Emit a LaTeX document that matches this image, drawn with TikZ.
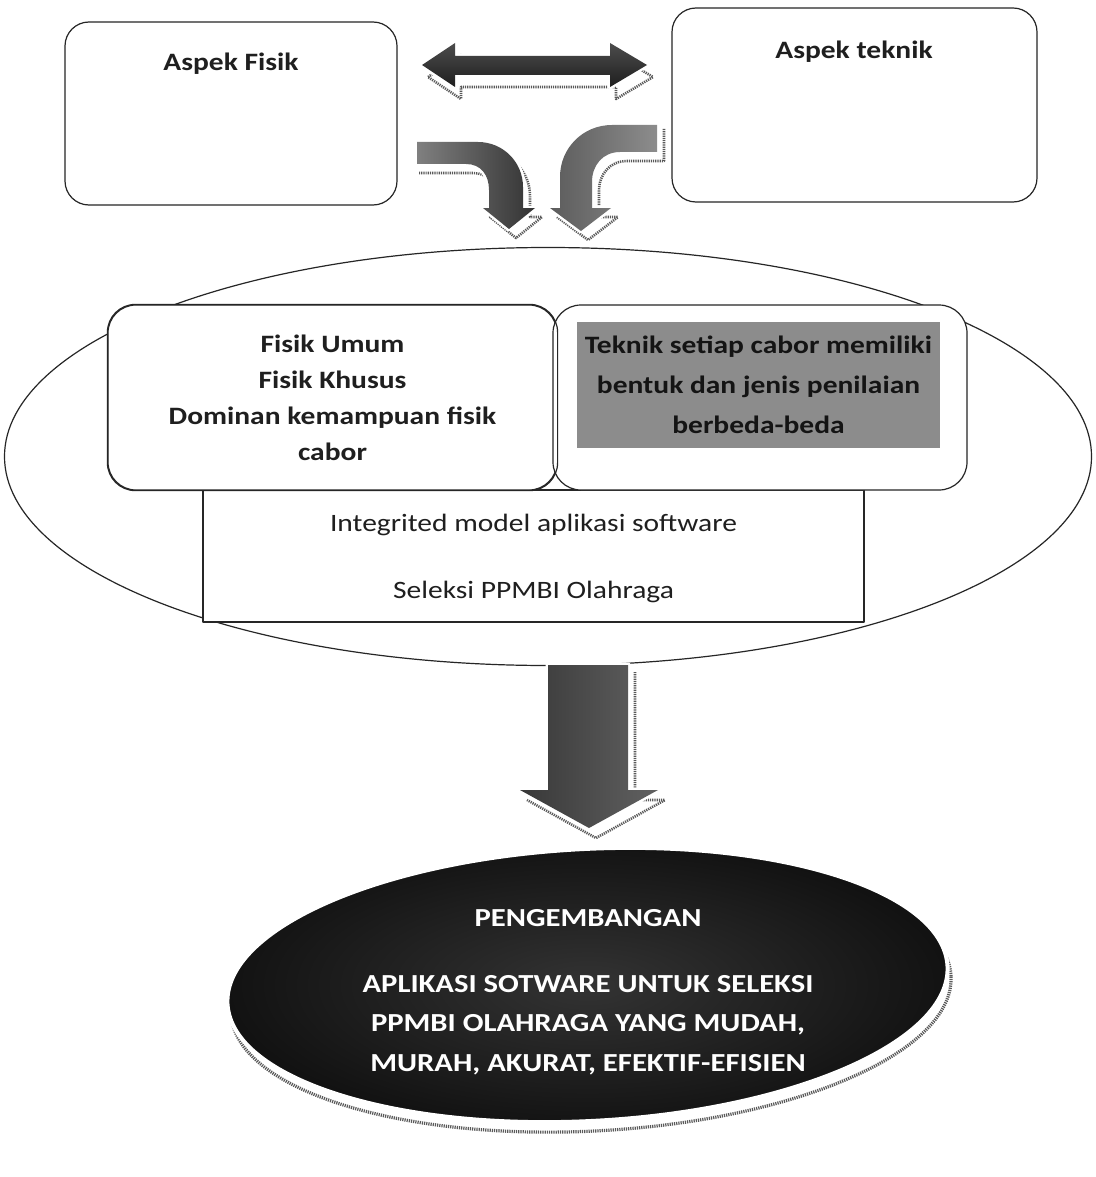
\documentclass[tikz,border=0pt]{standalone}
\usepackage{fontspec}
\setmainfont{Carlito}[FakeStretch=1.18]
\usetikzlibrary{shapes.geometric}
\begin{document}
\begin{tikzpicture}[x=1pt,y=-1pt, line join=round,
  outl/.style={draw=black!85, line width=1.2pt},
  aspbox/.style={outl, fill=white, rounded corners=24pt, inner sep=0pt},
  innbox/.style={outl, fill=white, rounded corners=28pt, inner sep=0pt, align=center, text=black!88, font=\bfseries\fontsize{25}{36}\selectfont},
  ttl/.style={font=\bfseries\fontsize{25}{30}\selectfont, text=black!88},
  plaintxt/.style={font=\fontsize{25}{30}\selectfont, text=black!88},
  shad/.style={draw=black!65, line width=2.6pt, dash pattern=on 1.2pt off 1pt},
  halo/.style={draw=white, line width=5pt},
]
\useasboundingbox (0,0) rectangle (1095,1177);
\fill[white] (0,0) rectangle (1095,1177);

% top boxes
\node[aspbox, minimum width=332pt, minimum height=183pt] (fisik) at (231,113.5) {};
\node[ttl] (tfisik) at (231,64) {Aspek Fisik};
\node[aspbox, minimum width=365pt, minimum height=194pt] (teknik) at (854.5,105) {};
\node[ttl] (tteknik) at (854,52) {Aspek teknik};

% big ellipse
\node[outl, fill=white, ellipse, minimum width=1087pt, minimum height=418pt, inner sep=0pt] (big) at (548,456.5) {};

% double arrow
\begin{scope}[shift={(6,12)}]
\draw[shad] (422,65) -- (455,43) -- (455,56) -- (610,56) -- (610,43) -- (647,65) -- (610,87) -- (610,75) -- (455,75) -- (455,87) -- cycle;
\end{scope}
\path[halo, fill=black!75] (422,65) -- (455,43) -- (455,56) -- (610,56) -- (610,43) -- (647,65) -- (610,87) -- (610,75) -- (455,75) -- (455,87) -- cycle;
\path[top color=black!70, bottom color=black!88] (422,65) -- (455,43) -- (455,56) -- (610,56) -- (610,43) -- (647,65) -- (610,87) -- (610,75) -- (455,75) -- (455,87) -- cycle;
\coordinate (dblL) at (422,65);
\coordinate (dblR) at (647,65);

% curved arrows: shadows
\begin{scope}[shift={(7,9)}]
\draw[shad] (417,142) -- (478,142) .. controls (503,142) and (523,162) .. (523,187) -- (523,208) -- (535,208) -- (509,229) -- (483,208) -- (489,208) -- (489,190) .. controls (489,175) and (481,164) .. (466,164) -- (412,164);
\draw[shad] (657,120) -- (657,152) -- (620,152) .. controls (603,152) and (592,165) .. (592,182) -- (592,208) -- (611,208) -- (581,231) -- (550,208);
\end{scope}
% left curved arrow
\path[halo, fill=black!65] (417,142) -- (478,142) .. controls (503,142) and (523,162) .. (523,187) -- (523,208) -- (535,208) -- (509,229) -- (483,208) -- (489,208) -- (489,190) .. controls (489,175) and (481,164) .. (466,164) -- (417,164) -- cycle;
\path[left color=black!50, right color=black!80] (417,142) -- (478,142) .. controls (503,142) and (523,162) .. (523,187) -- (523,208) -- (535,208) -- (509,229) -- (483,208) -- (489,208) -- (489,190) .. controls (489,175) and (481,164) .. (466,164) -- (417,164) -- cycle;
% right curved arrow
\path[halo, fill=black!55] (657,125) -- (612,125) .. controls (583,125) and (560,148) .. (560,177) -- (560,208) -- (550,208) -- (581,231) -- (611,208) -- (592,208) -- (592,182) .. controls (592,165) and (603,152) .. (620,152) -- (657,152) -- cycle;
\path[left color=black!64, right color=black!45] (657,125) -- (612,125) .. controls (583,125) and (560,148) .. (560,177) -- (560,208) -- (550,208) -- (581,231) -- (611,208) -- (592,208) -- (592,182) .. controls (592,165) and (603,152) .. (620,152) -- (657,152) -- cycle;

% integrated rectangle
\node[outl, fill=white, minimum width=661pt, minimum height=132pt, inner sep=0pt] (integ) at (533.5,556) {};
\node[plaintxt] (tinteg) at (533.5,525) {Integrited model aplikasi software};
\node[plaintxt] (tsel) at (533.5,592) {Seleksi PPMBI Olahraga};

% inner boxes
\node[innbox, minimum width=449pt, minimum height=185pt] (lbox) at (332.5,397.5) {Fisik Umum\\Fisik Khusus\\Dominan kemampuan fisik\\cabor};
\node[innbox, minimum width=414pt, minimum height=185pt] (rbox) at (760,397.5) {};
\draw[outl, rounded corners=28pt] (lbox.south west) rectangle (lbox.north east);
\node[fill=black!45, minimum width=363pt, minimum height=126pt, inner sep=0pt, align=center, text=black!92, font=\bfseries\fontsize{25}{40}\selectfont] (tek) at (758.5,385) {Teknik setiap cabor memiliki\\bentuk dan jenis penilaian\\berbeda-beda};

% down arrow
\begin{scope}[shift={(7,10)}]
\draw[shad] (628,662) -- (628,790) -- (658,790) -- (589,828) -- (520,790);
\end{scope}
\path[halo, fill=black!70] (548,665) -- (628,665) -- (628,790) -- (658,790) -- (589,828) -- (520,790) -- (548,790) -- cycle;
\path[left color=black!78, right color=black!62] (548,665) -- (628,665) -- (628,790) -- (658,790) -- (589,828) -- (520,790) -- (548,790) -- cycle;

% dark ellipse
\node[ellipse, rotate=3, minimum width=721pt, minimum height=272pt, inner sep=0pt, shad, line width=3.2pt] (devsh) at (591,995) {};
\node[ellipse, rotate=3, minimum width=721pt, minimum height=272pt, inner sep=0pt, draw=white, line width=4pt, inner color=black!80, outer color=black!93] (dev) at (587.5,985) {};
\node[font=\bfseries\fontsize{26}{39.5}\selectfont, text=white] (tpeng) at (588,918) {PENGEMBANGAN};
\node[font=\bfseries\fontsize{26}{39.5}\selectfont, text=white, align=center] (tapl) at (588,1025) {APLIKASI SOTWARE UNTUK SELEKSI\\PPMBI OLAHRAGA YANG MUDAH,\\MURAH, AKURAT, EFEKTIF-EFISIEN};
\end{tikzpicture}
\end{document}
